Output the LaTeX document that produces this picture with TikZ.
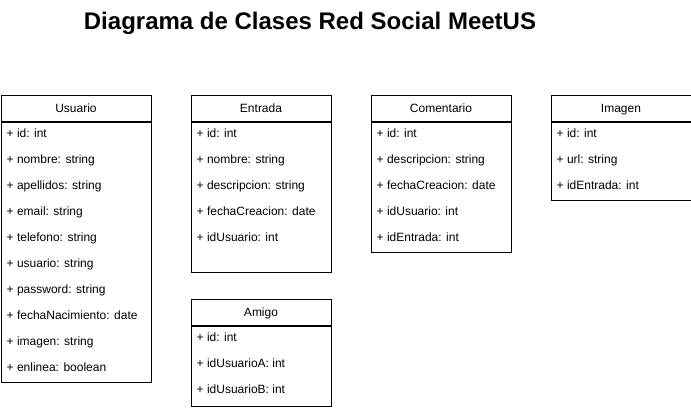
\documentclass[tikz,border=0pt]{standalone}
\usepackage{fontspec}
\setmainfont{Liberation Sans}
\begin{document}
\begin{tikzpicture}[x=1pt,y=-1pt,
  classhead/.style={draw=black, line width=1pt, inner sep=0pt, anchor=north west,
    minimum height=26pt, text height=8.6pt, text depth=0pt,
    font=\fontsize{12}{14}\selectfont},
  classbody/.style={draw=black, line width=1pt, inner sep=0pt, anchor=north west},
  field/.style={anchor=base west, inner sep=0pt, font=\fontsize{12}{14}\selectfont},
  titletext/.style={anchor=base, inner sep=0pt, font=\bfseries\fontsize{24}{28}\selectfont}]
\useasboundingbox (0,0) rectangle (691,408);

\node[titletext] (title) at (310,29) {Diagrama de Clases Red Social MeetUS};

% Usuario
\node[classhead, minimum width=150pt] (usuario) at (0.5,94.5) {Usuario};
\node[classbody, minimum width=150pt, minimum height=260pt] (usuariob) at (usuario.south west) {};
\foreach \t [count=\i from 0] in {id: int, nombre: string, apellidos: string, email: string,
  telefono: string, usuario: string, password: string, fechaNacimiento: date,
  imagen: string, enlinea: boolean}
  \node[field] (usuario-f\i) at (6.5,137.5+26*\i) {+ \t};

% Entrada
\node[classhead, minimum width=140pt] (entrada) at (190.5,94.5) {Entrada};
\node[classbody, minimum width=140pt, minimum height=150pt] (entradab) at (entrada.south west) {};
\foreach \t [count=\i from 0] in {id: int, nombre: string, descripcion: string,
  fechaCreacion: date, idUsuario: int}
  \node[field] (entrada-f\i) at (196.5,137.5+26*\i) {+ \t};

% Amigo
\node[classhead, minimum width=140pt] (amigo) at (190.5,298.5) {Amigo};
\node[classbody, minimum width=140pt, minimum height=80pt] (amigob) at (amigo.south west) {};
\foreach \t [count=\i from 0] in {id: int, idUsuarioA: int, idUsuarioB: int}
  \node[field] (amigo-f\i) at (196.5,341.5+26*\i) {+ \t};

% Comentario
\node[classhead, minimum width=140pt] (comentario) at (370.5,94.5) {Comentario};
\node[classbody, minimum width=140pt, minimum height=130pt] (comentariob) at (comentario.south west) {};
\foreach \t [count=\i from 0] in {id: int, descripcion: string, fechaCreacion: date,
  idUsuario: int, idEntrada: int}
  \node[field] (comentario-f\i) at (376.5,137.5+26*\i) {+ \t};

% Imagen
\node[classhead, minimum width=140pt] (imagen) at (550.5,94.5) {Imagen};
\node[classbody, minimum width=140pt, minimum height=78pt] (imagenb) at (imagen.south west) {};
\foreach \t [count=\i from 0] in {id: int, url: string, idEntrada: int}
  \node[field] (imagen-f\i) at (556.5,137.5+26*\i) {+ \t};
\end{tikzpicture}
\end{document}
